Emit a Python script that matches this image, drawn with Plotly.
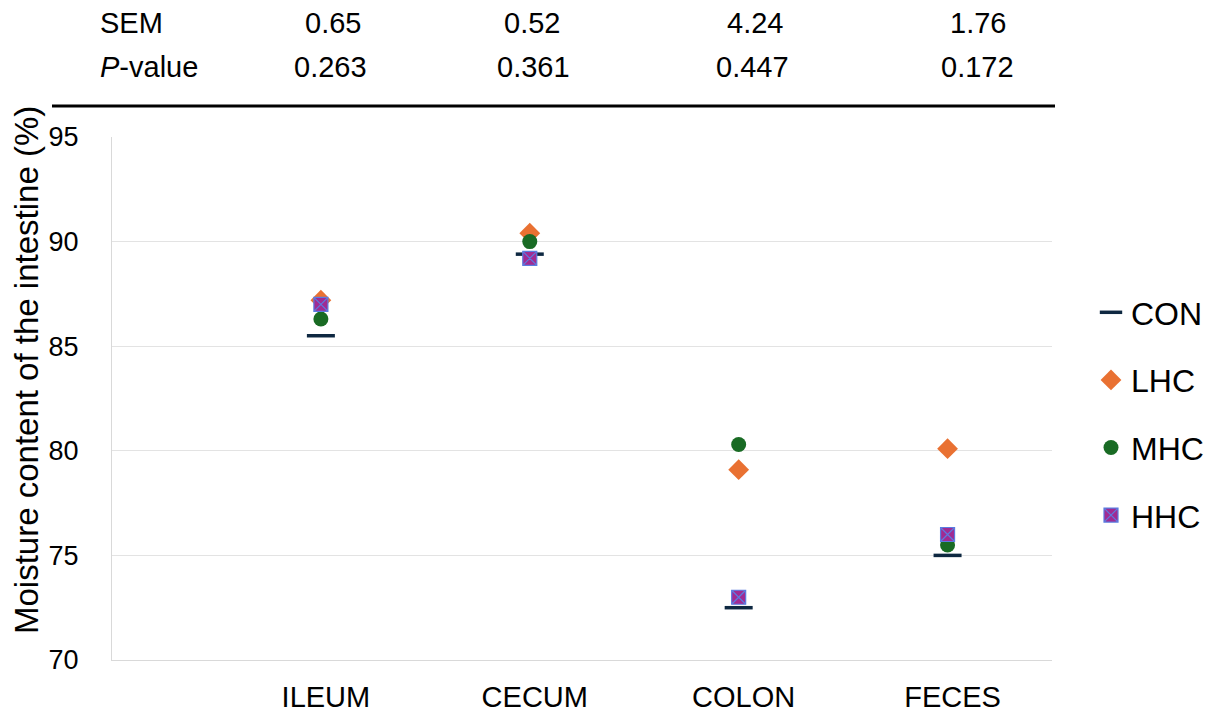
import plotly.graph_objects as go

categories = ["ILEUM", "CECUM", "COLON", "FECES"]
con = [85.5, 89.4, 72.5, 75.0]
lhc = [87.2, 90.4, 79.1, 80.1]
mhc = [86.3, 90.0, 80.3, 75.5]
hhc = [87.0, 89.2, 73.0, 76.0]
sem = ["0.65", "0.52", "4.24", "1.76"]
pval = ["0.263", "0.361", "0.447", "0.172"]

xpos = list(range(1, len(categories) + 1))
FONT = "Liberation Sans, Arial, sans-serif"

# layout geometry (pixels)
W, H = 1208, 713
L, R, T, B = 112, 156, 137, 53
PW, PH = W - L - R, H - T - B


def px(xp):
    return (xp - L) / PW


def py(yp):
    return (H - B - yp) / PH


fig = go.Figure()
series = [
    ("CON", con, dict(symbol="line-ew", size=20, color="#0E2841",
                      line=dict(width=3.5, color="#0E2841"))),
    ("LHC", lhc, dict(symbol="diamond", size=16, color="#E97132",
                      line=dict(width=0))),
    ("MHC", mhc, dict(symbol="circle", size=15, color="#196B24",
                      line=dict(width=0))),
    ("HHC", hhc, dict(symbol="square-x", size=14, color="#A02B93",
                      line=dict(width=1.2, color="#5B7BE0"))),
]
for name, vals, mk in series:
    fig.add_trace(go.Scatter(x=xpos, y=vals, mode="markers", name=name,
                             marker=mk, legendgroup=name))

# table above the plot
sem_x = [333, 532, 755, 978]
p_x = [330, 533, 752, 977]
row_y = [py(23), py(67)]
TF = dict(size=29, color="black", family=FONT)
fig.add_annotation(text="SEM", x=px(98), y=row_y[0], xref="paper", yref="paper",
                   xanchor="left", yanchor="middle", showarrow=False, font=TF)
fig.add_annotation(text="<i>P</i>-value", x=px(98), y=row_y[1], xref="paper", yref="paper",
                   xanchor="left", yanchor="middle", showarrow=False, font=TF)
for sx, s in zip(sem_x, sem):
    fig.add_annotation(text=s, x=px(sx), y=row_y[0], xref="paper", yref="paper",
                       xanchor="center", yanchor="middle", showarrow=False, font=TF)
for pxx, p in zip(p_x, pval):
    fig.add_annotation(text=p, x=px(pxx), y=row_y[1], xref="paper", yref="paper",
                       xanchor="center", yanchor="middle", showarrow=False, font=TF)
fig.add_shape(type="line", xref="paper", yref="paper", x0=px(52), x1=px(1055),
              y0=py(106), y1=py(106), line=dict(color="black", width=3))

# y-axis title
fig.add_annotation(text="Moisture content of the intestine (%)", textangle=-90,
                   x=px(26), y=py(370), xref="paper", yref="paper",
                   xanchor="center", yanchor="middle", showarrow=False,
                   font=dict(size=33, color="black", family=FONT))

fig.update_layout(
    width=W, height=H,
    margin=dict(l=L, r=R, t=T, b=B, autoexpand=False),
    paper_bgcolor="white", plot_bgcolor="white",
    font=dict(family=FONT, color="black"),
    showlegend=True,
    legend=dict(x=px(1091), y=py(414), xanchor="left", yanchor="middle",
                font=dict(size=32, color="black", family=FONT),
                tracegroupgap=23, itemwidth=30),
    xaxis=dict(range=[0, 4.5], tickvals=xpos, ticktext=categories,
               showgrid=False, zeroline=False, showline=True, linecolor="#D9D9D9",
               linewidth=1, ticks="", tickfont=dict(size=29, color="black"),
               ticklabelstandoff=11, ticklabelshift=5, automargin=False),
    yaxis=dict(range=[70, 95], tickvals=[70, 75, 80, 85, 90, 95],
               showgrid=True, gridcolor="#E3E3E3", gridwidth=1, zeroline=False,
               showline=True, linecolor="#D9D9D9", linewidth=1, ticks="",
               tickfont=dict(size=27, color="black"), ticklabelstandoff=27,
               automargin=False),
)

fig.write_html("out.html")
